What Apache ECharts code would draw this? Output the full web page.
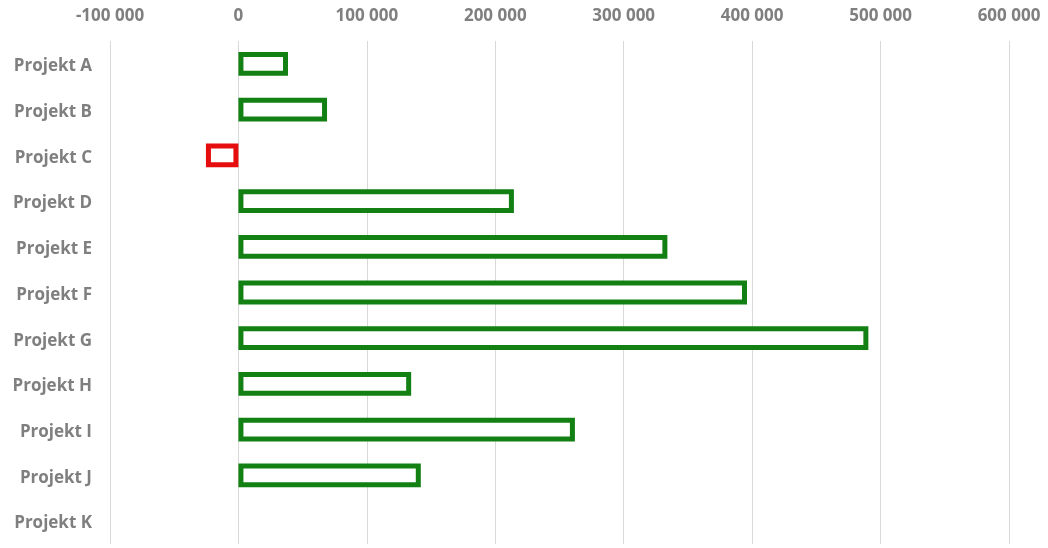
<!DOCTYPE html>
<html>
<head>
<meta charset="utf-8">
<script src="https://cdn.jsdelivr.net/npm/echarts@6/dist/echarts.min.js"></script>
<style>html,body{margin:0;padding:0;background:#fff}#c{width:1048px;height:548px}</style>
</head>
<body>
<div id="c"></div>
<script>
const categories = ['Projekt A','Projekt B','Projekt C','Projekt D','Projekt E','Projekt F','Projekt G','Projekt H','Projekt I','Projekt J','Projekt K'];
const values = [38600, 69000, -25300, 214500, 334000, 396000, 490500, 134500, 262000, 142000, null];
const xTicks = { min: -100000, max: 600000, interval: 100000 };

const GREEN = '#128012', RED = '#e50d0d';
const fmt = v => { const s = Math.abs(v).toString().replace(/\B(?=(\d{3})+(?!\d))/g, ' '); return (v < 0 ? '-' : '') + s; };
const labelFont = { color: '#7f7f7f', fontFamily: 'Open Sans', fontWeight: 'bold', fontSize: 17 };

const chart = echarts.init(document.getElementById('c'));
chart.setOption({
  animation: false,
  grid: { left: 110, right: 39, top: 41, bottom: 4, containLabel: false },
  xAxis: {
    type: 'value', position: 'top', min: xTicks.min, max: xTicks.max, interval: xTicks.interval,
    axisLine: { show: false }, axisTick: { show: false },
    splitLine: { lineStyle: { color: '#d9d9d9', width: 1 } },
    axisLabel: Object.assign({ formatter: fmt, margin: 16 }, labelFont)
  },
  yAxis: {
    type: 'category', inverse: true, data: categories,
    axisLine: { show: false }, axisTick: { show: false },
    axisLabel: Object.assign({
      margin: 18,
      formatter: v => '{a|' + v + '}',
      rich: { a: Object.assign({ padding: [5, 0, 0, 0] }, labelFont) }
    }, labelFont)
  },
  series: [{
    type: 'bar',
    barWidth: '52%',
    data: values.map(v => v == null ? '-' : {
      value: v,
      itemStyle: { color: '#ffffff', borderColor: v < 0 ? RED : GREEN, borderWidth: 5 }
    })
  }]
});
</script>
</body>
</html>
